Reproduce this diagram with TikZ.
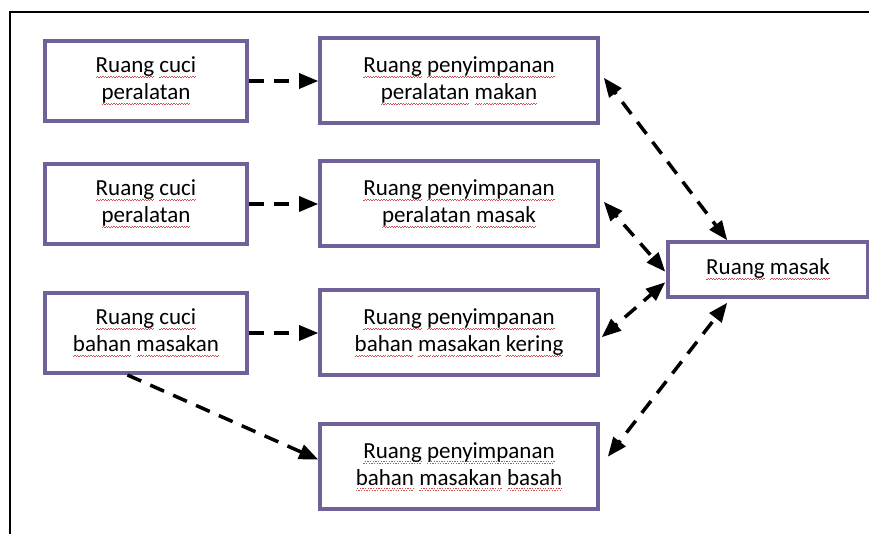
\documentclass[tikz,border=0pt]{standalone}
\usepackage{fontspec}
\setmainfont{Carlito}
\usepackage{tikz}
\usetikzlibrary{arrows}
\usetikzlibrary{positioning}
\usetikzlibrary{calc}
\definecolor{roomline}{RGB}{112,98,152}
\definecolor{spellred}{RGB}{205,80,80}
\newsavebox{\spellbox}
\newcommand\spellsq[1]{\sbox\spellbox{#1}\leavevmode\rlap{\raisebox{-5.5pt}{\hbox to\wd\spellbox{\color{spellred}\xleaders\hbox{\rule{1.3pt}{0.9pt}\raisebox{1.3pt}{\rule{1.3pt}{0.9pt}}}\hfill}}}\usebox\spellbox}

\begin{document}
\begin{tikzpicture}[line cap=butt,line join=miter,>=triangle 45,x=1pt,y=1pt,
  room/.style={draw=roomline,line width=4pt,fill=white,align=center,
    font=\fontsize{23}{27}\selectfont,text=black},
  roomL/.style={room,minimum width=202pt,minimum height=80pt},
  roomM/.style={room,minimum width=278pt,minimum height=85pt},
  flow/.style={->,line width=3.5pt,dash pattern=on 15pt off 10pt},
  both/.style={<->,line width=3.5pt,dash pattern=on 15pt off 10pt}]
\useasboundingbox (0,0) rectangle (869,534);
% frame
\draw [line width=2.5pt] (10,0) -- (10,522) -- (869,522);
% washing rooms
\node [roomL] (L1) at (146,453) {\spellsq{Ruang} \spellsq{cuci}\\\spellsq{peralatan}};
\node [roomL] (L2) at (146,330) {\spellsq{Ruang} \spellsq{cuci}\\\spellsq{peralatan}};
\node [roomL] (L3) at (146,201) {\spellsq{Ruang} \spellsq{cuci}\\\spellsq{bahan} \spellsq{masakan}};
% storage rooms
\node [roomM] (M1) at (459,453) {\spellsq{Ruang} \spellsq{penyimpanan}\\\spellsq{peralatan} \spellsq{makan}};
\node [roomM] (M2) at (459,330) {\spellsq{Ruang} \spellsq{penyimpanan}\\\spellsq{peralatan} \spellsq{masak}};
\node [roomM] (M3) at (459,201) {\spellsq{Ruang} \spellsq{penyimpanan}\\\spellsq{bahan} \spellsq{masakan} \spellsq{kering}};
\node [roomM] (M4) at (459,67.5) {\spellsq{Ruang} \spellsq{penyimpanan}\\\spellsq{bahan} \spellsq{masakan} \spellsq{basah}};
% kitchen
\node [room,minimum width=200pt,minimum height=55pt] (MK) at (768,264.5) {\spellsq{Ruang} \spellsq{masak}};
\coordinate (d1) at ($(L3.south west)!0.41!(L3.south east)$);
\draw [flow] (L1) -- (M1);
\draw [flow] (L2) -- (M2);
\draw [flow] (L3) -- (M3);
\draw [flow] (d1) -- ([yshift=7pt]M4.west);
\draw [both] ([xshift=4pt,yshift=3pt]M1.east) -- ([xshift=-41pt]MK.north);
\draw [both] ([xshift=4pt,yshift=2pt]M2.east) -- ([xshift=-1pt,yshift=-2pt]MK.west);
\draw [both] ([xshift=2pt,yshift=-4pt]M3.east) -- ([xshift=-1pt,yshift=-13pt]MK.west);
\draw [both] ([xshift=8pt,yshift=10pt]M4.east) -- ([xshift=-41pt,yshift=-4pt]MK.south);
\end{tikzpicture}
\end{document}
